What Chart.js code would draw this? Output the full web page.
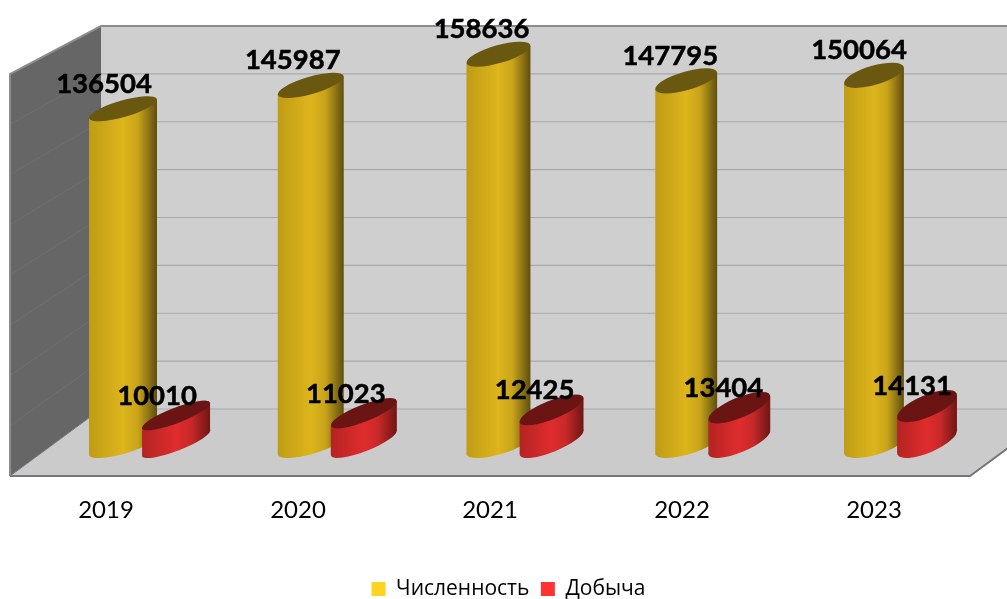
<!DOCTYPE html>
<html>
<head>
<meta charset="utf-8">
<title>Численность и добыча</title>
<script src="https://cdn.jsdelivr.net/npm/chart.js@4"></script>
<style>
  html, body { margin: 0; padding: 0; background: #fff; }
  canvas { display: block; }
</style>
</head>
<body>
<canvas id="stockChart" width="1007" height="599"></canvas>
<script>
const years = ["2019", "2020", "2021", "2022", "2023"];
const population = [136504, 145987, 158636, 147795, 150064];
const harvest = [10010, 11023, 12425, 13404, 14131];
const axisMax = 160000;
const axisStep = 20000;

// shades for the cylinders: left, middle, shoulder, right, top cap
const goldShades = ["#bf9c14", "#ddb51c", "#c9a41a", "#5f4e10", "#6b5810"];
const redShades = ["#b32421", "#e02c2e", "#c82929", "#6f1515", "#6b1414"];

// 3d box offsets, back wall against the front plane
const depthX = 91;
const depthY = 67;
const topDepthY = 48;

function backY(area, y) {
  const ratio = (area.bottom - depthY - (area.top - topDepthY)) / (area.bottom - area.top);
  return area.bottom - depthY - (area.bottom - y) * ratio;
}

const boxPlugin = {
  id: "box3d",
  afterLayout(chart) {
    // legend sits a bit right of the plot centre
    chart.legend.left += 18.5;
    chart.legend.right += 18.5;
  },
  beforeDatasetsDraw(chart) {
    const ctx = chart.ctx;
    const a = chart.chartArea;
    const backLeft = a.left + depthX;
    const backRight = a.right + depthX;
    const backBottom = a.bottom - depthY;
    const backTop = a.top - topDepthY;
    ctx.save();

    // back wall
    ctx.fillStyle = "#cfcfcf";
    ctx.fillRect(backLeft, backTop, backRight - backLeft, backBottom - backTop);

    // floor
    ctx.fillStyle = "#cbcbcb";
    ctx.beginPath();
    ctx.moveTo(a.left, a.bottom);
    ctx.lineTo(a.right, a.bottom);
    ctx.lineTo(backRight, backBottom);
    ctx.lineTo(backLeft, backBottom);
    ctx.closePath();
    ctx.fill();

    // left wall
    ctx.fillStyle = "#666666";
    ctx.beginPath();
    ctx.moveTo(a.left, a.bottom);
    ctx.lineTo(a.left, a.top);
    ctx.lineTo(backLeft, backTop);
    ctx.lineTo(backLeft, backBottom);
    ctx.closePath();
    ctx.fill();

    // grid lines from the value axis
    chart.scales.y.ticks.forEach(t => {
      const y = chart.scales.y.getPixelForValue(t.value);
      const by = backY(a, y);
      if (t.value < axisMax) {
        ctx.strokeStyle = "#a9a9ad";
        ctx.lineWidth = 1.2;
        ctx.beginPath();
        ctx.moveTo(backLeft, by);
        ctx.lineTo(backRight, by);
        ctx.stroke();
      }
      if (t.value > 0 && t.value < axisMax) {
        ctx.strokeStyle = "#707074";
        ctx.lineWidth = 1;
        ctx.beginPath();
        ctx.moveTo(a.left, y);
        ctx.lineTo(backLeft, by);
        ctx.stroke();
      }
    });

    // outlines
    ctx.strokeStyle = "#8b8b93";
    ctx.lineWidth = 2;
    ctx.beginPath();
    ctx.moveTo(a.left, a.bottom);
    ctx.lineTo(a.left, a.top);
    ctx.lineTo(backLeft, backTop);
    ctx.lineTo(backRight, backTop);
    ctx.stroke();

    ctx.strokeStyle = "#77777b";
    ctx.beginPath();
    ctx.moveTo(a.left, a.bottom);
    ctx.lineTo(a.right, a.bottom);
    ctx.lineTo(backRight, backBottom);
    ctx.stroke();

    ctx.lineWidth = 1;
    ctx.beginPath();
    ctx.moveTo(a.left, a.bottom);
    ctx.lineTo(backLeft, backBottom);
    ctx.stroke();
    ctx.restore();
  }
};

// where a bar really lands inside the box, it stands behind the front plane
function cylinderShape(chart, el, dsIndex, idx) {
  const a = chart.chartArea;
  const left = el.x - el.width / 2;
  const px = left * 0.9831 + 44.76;
  const w = el.width * (1 - 0.03 * idx);
  const hw = w / 2;
  const tiltDeg = dsIndex === 0 ? 16 : 21 + 0.5 * idx;
  const tilt = tiltDeg * Math.PI / 180;
  const b = dsIndex === 0 ? 8.3 + 0.33 * idx : 7.7 + 0.8 * idx;
  const s = Math.sin(tilt);
  const c = Math.cos(tilt);
  const rx = Math.sqrt((hw * hw - b * b * s * s) / (c * c));
  const off = (rx * rx - b * b) * s * c / hw;
  const hh = Math.sqrt(rx * rx * s * s + b * b * c * c);
  const bottom = a.bottom - 18 - hh;
  const lift = dsIndex === 0 ? 0 : 3 - 0.5 * idx; // short bars sit a touch higher
  const top = bottom - (a.bottom - el.y) * 0.9816 - lift;
  return { x: px + hw, left: px, hw, rx, b, tilt, off, top, bottom };
}

function drawCylinders(chart, dsIndex) {
  const ctx = chart.ctx;
  const shades = dsIndex === 0 ? goldShades : redShades;
  chart.getDatasetMeta(dsIndex).data.forEach((el, i) => {
    const s = cylinderShape(chart, el, dsIndex, i);
    const g = ctx.createLinearGradient(s.left, 0, s.left + s.hw * 2, 0);
    g.addColorStop(0, shades[0]);
    g.addColorStop(0.5, shades[1]);
    g.addColorStop(0.72, shades[2]);
    g.addColorStop(1, shades[3]);
    ctx.save();
    ctx.fillStyle = g;
    ctx.beginPath();
    ctx.moveTo(s.x - s.hw, s.top + s.off);
    ctx.lineTo(s.x + s.hw, s.top - s.off);
    ctx.lineTo(s.x + s.hw, s.bottom - s.off);
    ctx.lineTo(s.x - s.hw, s.bottom + s.off);
    ctx.closePath();
    ctx.fill();
    ctx.beginPath();
    ctx.ellipse(s.x, s.bottom, s.rx, s.b, -s.tilt, 0, Math.PI * 2);
    ctx.fill();
    ctx.fillStyle = shades[4];
    ctx.beginPath();
    ctx.ellipse(s.x, s.top, s.rx, s.b, -s.tilt, 0, Math.PI * 2);
    ctx.fill();
    ctx.restore();
  });
}

const cylinderPlugin = {
  id: "cylinders",
  beforeDatasetDraw() {
    return false; // cylinders replace the plain rectangles
  },
  afterDatasetsDraw(chart) {
    const ctx = chart.ctx;
    drawCylinders(chart, 0);
    drawCylinders(chart, 1);
    ctx.save();
    ctx.fillStyle = "#000";
    ctx.strokeStyle = "#000";
    ctx.lineWidth = 0.5;
    ctx.font = "bold 27.5px Lato";
    ctx.textAlign = "center";
    ctx.textBaseline = "middle";
    chart.data.datasets.forEach((ds, dsIndex) => {
      chart.getDatasetMeta(dsIndex).data.forEach((el, i) => {
        const s = cylinderShape(chart, el, dsIndex, i);
        const shift = dsIndex === 0 ? 25 : 19.5;
        ctx.fillText(String(ds.data[i]), s.left + 15, s.top - shift);
        ctx.strokeText(String(ds.data[i]), s.left + 15, s.top - shift);
      });
    });
    ctx.restore();
  }
};

new Chart(document.getElementById("stockChart"), {
  type: "bar",
  data: {
    labels: years,
    datasets: [
      { label: "Численность", data: population, backgroundColor: "#ffd320" },
      { label: "Добыча", data: harvest, backgroundColor: "#ff3333" }
    ]
  },
  options: {
    responsive: false,
    animation: false,
    categoryPercentage: 108 / 192,
    barPercentage: 68 / 54,
    layout: { padding: { left: 10, right: 37, top: 74, bottom: -10.5 } },
    scales: {
      x: {
        grid: { display: false },
        border: { display: false },
        afterFit: s => { s.height = 91; },
        ticks: { color: "#000", font: { family: "Lato", size: 24 }, padding: 12, maxRotation: 0 }
      },
      y: {
        min: 0,
        max: axisMax,
        grid: { display: false },
        border: { display: false },
        afterFit: s => { s.width = 0; },
        ticks: { display: false, stepSize: axisStep }
      }
    },
    plugins: {
      tooltip: { enabled: false },
      legend: {
        position: "bottom",
        labels: {
          color: "#000",
          boxWidth: 14,
          boxHeight: 14,
          font: { family: "'Open Sans'", size: 21 },
          padding: 11.5
        }
      }
    }
  },
  plugins: [boxPlugin, cylinderPlugin]
});
</script>
</body>
</html>
